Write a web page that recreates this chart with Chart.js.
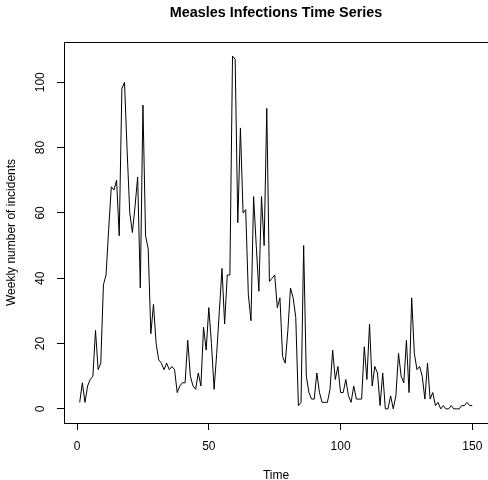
<!DOCTYPE html>
<html>
<head>
<meta charset="utf-8">
<title>Measles Infections Time Series</title>
<script src="https://cdn.jsdelivr.net/npm/chart.js@4.4.1/dist/chart.umd.min.js"></script>
<style>
  html, body { margin: 0; padding: 0; background: #ffffff; }
  canvas { display: block; }
</style>
</head>
<body>
<canvas id="chart" width="488" height="480"></canvas>
<script>
// Weekly measles incidents, one value per week
const incidents = [
  2, 8, 2, 7, 9, 10, 24, 12, 14, 38,
  41, 55, 68, 67, 70, 53, 98, 100, 79, 60,
  54, 62, 71, 37, 93, 53, 49, 23, 32, 20,
  15, 14, 12, 14, 12, 13, 12, 5, 7, 8,
  8, 21, 10, 7, 6, 11, 7, 25, 18, 31,
  20, 6, 17, 30, 43, 26, 41, 41, 108, 107,
  57, 86, 60, 61, 35, 27, 65, 50, 36, 65,
  50, 92, 39, 40, 41, 31, 34, 16, 14, 24,
  37, 34, 28, 1, 2, 50, 10, 5, 3, 3,
  11, 5, 2, 2, 2, 6, 18, 9, 13, 5,
  5, 9, 4, 2, 7, 3, 3, 3, 19, 9,
  26, 7, 13, 11, 1, 11, 0, 0, 4, 0,
  4, 17, 10, 8, 21, 5, 34, 17, 12, 13,
  10, 3, 14, 3, 5, 1, 2, 0, 1, 0,
  0, 1, 0, 0, 0, 1, 1, 2, 1, 1
];

// Time index (week number, starting at 1)
const weeks = incidents.map((_, i) => i + 1);

// Axis tick positions
const xTickValues = [0, 50, 100, 150];
const yTickValues = [0, 20, 40, 60, 80, 100];

// Axis ranges: data range padded by 4% on each side
const xMin = -4.96, xMax = 155.96;
const yMin = -4.32, yMax = 112.32;

const FONT = "'Liberation Sans', Arial, Helvetica, sans-serif";

// Frame drawn around the plotting region
const plotBox = {
  id: 'plotBox',
  afterDraw(chart) {
    const { ctx, chartArea: a } = chart;
    ctx.save();
    ctx.strokeStyle = '#000000';
    ctx.lineWidth = 1;
    const l = Math.round(a.left) + 0.5;
    const t = Math.round(a.top) + 0.5;
    const r = Math.round(a.right) + 0.5;
    const b = Math.round(a.bottom) + 0.5;
    ctx.strokeRect(l, t, r - l, b - t);
    ctx.restore();
  }
};

new Chart(document.getElementById('chart'), {
  type: 'line',
  data: {
    datasets: [{
      data: weeks.map((t, i) => ({ x: t, y: incidents[i] })),
      borderColor: '#000000',
      borderWidth: 1,
      pointRadius: 0,
      tension: 0,
      fill: false
    }]
  },
  options: {
    responsive: false,
    animation: false,
    devicePixelRatio: 1,
    layout: { padding: { left: 0, right: -2, top: 0, bottom: 0 } },
    plugins: {
      legend: { display: false },
      tooltip: { enabled: false },
      title: {
        display: true,
        text: 'Measles Infections Time Series',
        fullSize: false,
        color: '#000000',
        font: { family: FONT, size: 14.4, weight: 'bold', lineHeight: 1.2 },
        padding: { top: 4.4, bottom: 20.3 }
      }
    },
    scales: {
      x: {
        type: 'linear',
        min: xMin,
        max: xMax,
        afterBuildTicks: s => { s.ticks = xTickValues.map(v => ({ value: v })); },
        afterFit: s => { s.height = 57; s.paddingLeft = 0; s.paddingRight = -2; },
        border: { display: false },
        grid: { drawOnChartArea: false, drawTicks: true, tickLength: 7, tickColor: '#000000', tickWidth: 1 },
        ticks: {
          color: '#000000',
          font: { family: FONT, size: 12 },
          padding: 9,
          autoSkip: false,
          maxRotation: 0,
          callback: v => String(v)
        },
        title: {
          display: true,
          text: 'Time',
          color: '#000000',
          font: { family: FONT, size: 12, lineHeight: 1 },
          padding: { top: 0, bottom: -2 }
        }
      },
      y: {
        type: 'linear',
        min: yMin,
        max: yMax,
        afterBuildTicks: s => { s.ticks = yTickValues.map(v => ({ value: v })); },
        afterFit: s => { s.width = 64; s.paddingTop = 0; s.paddingBottom = 0; },
        border: { display: false },
        grid: { drawOnChartArea: false, drawTicks: true, tickLength: 7, tickColor: '#000000', tickWidth: 1 },
        ticks: {
          color: '#000000',
          font: { family: FONT, size: 12 },
          padding: 6,
          autoSkip: false,
          minRotation: 90,
          maxRotation: 90,
          crossAlign: 'center',
          callback: v => String(v)
        },
        title: {
          display: true,
          text: 'Weekly number of incidents',
          color: '#000000',
          font: { family: FONT, size: 12, lineHeight: 1 },
          padding: { top: 6, bottom: 0 }
        }
      }
    }
  },
  plugins: [plotBox]
});
</script>
</body>
</html>
